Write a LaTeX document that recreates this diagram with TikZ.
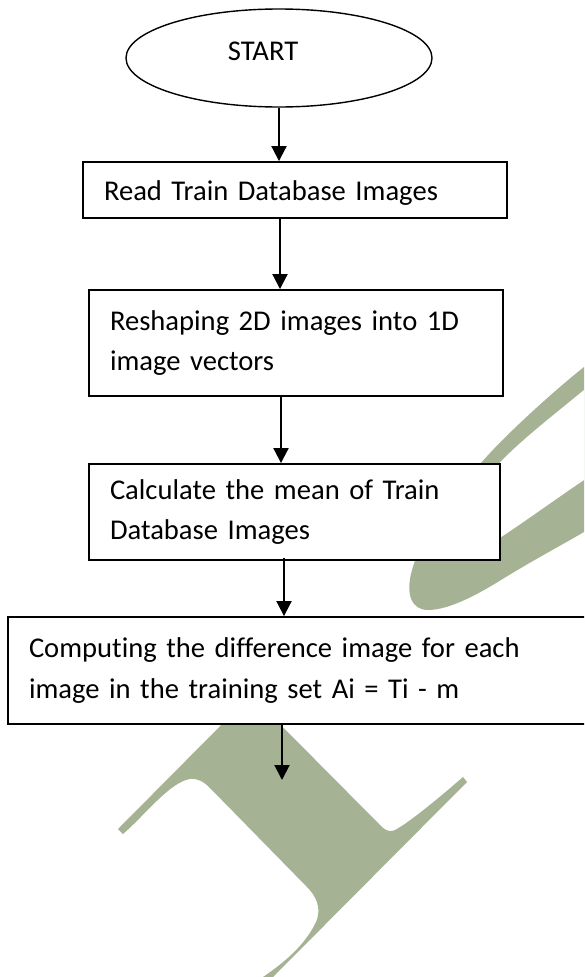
\documentclass[tikz,border=0pt]{standalone}
\usepackage{fontspec}
\setmainfont{Carlito}[Ligatures=NoCommon]
\usetikzlibrary{shapes.geometric,arrows.meta}
\definecolor{wmgreen}{RGB}{166,178,148}
\begin{document}
\begin{tikzpicture}[x=1pt,y=-1pt,
  txt/.style={font=\fontsize{28.6}{40.5}\selectfont},
  boxnode/.style={draw, line width=1.9pt, fill=white, rectangle, inner xsep=21pt, inner ysep=0pt, align=left, txt},
  arr/.style={line width=2pt, -{Triangle[length=15pt,width=15pt]}}]
\useasboundingbox (0,0) rectangle (584,977);
\clip (0,0) rectangle (584,977);
% watermark swoosh
\fill[wmgreen] (600,352) -- (584,367) .. controls (555,390) and (505,435) .. (481,463)
  .. controls (450,500) and (420,540) .. (412,570) .. controls (405,595) and (412,610) .. (428,610)
  .. controls (450,610) and (480,593) .. (501,580) .. controls (530,562) and (560,546) .. (584,532)
  -- (600,523) -- cycle;
\fill[white] (600,378) -- (584,390) .. controls (550,418) and (515,445) .. (495,468)
  .. controls (478,490) and (478,525) .. (495,541) .. controls (520,525) and (560,496) .. (584,480)
  -- (600,470) -- cycle;
% watermark H
\fill[wmgreen] (251,695) -- (118,829) -- (123,834) .. controls (145,815) and (170,782) .. (190,779)
  .. controls (198,778) and (204,782) .. (210,788) -- (307,887)
  .. controls (316,896) and (322,908) .. (316,922) .. controls (305,945) and (285,962) .. (263,977)
  -- (250,990) -- (260,990) -- (273,977) -- (467,782) -- (463,777)
  .. controls (440,797) and (410,822) .. (395,830) .. controls (388,833) and (384,829) .. (380,825)
  -- cycle;
% flowchart
\node[ellipse, draw, line width=1.4pt, minimum width=306pt, minimum height=98pt, inner sep=0pt, txt] (start) at (279,58) {\kern-32pt\raisebox{13pt}{START}};
\node[boxnode, text width=382pt, minimum height=56pt, text height=22pt, text depth=2pt] (b1) at (295,190) {Read Train Database Images};
\node[boxnode, text width=372pt, minimum height=106pt] (b2) at (296,343) {Reshaping 2D images into 1D\\image vectors};
\node[boxnode, text width=369pt, minimum height=96pt] (b3) at (294.5,512) {Calculate the mean of Train\\Database Images};
\node[boxnode, text width=550pt, minimum height=107pt] (b4) at (304,670.5) {Computing the difference image for each\\image in the training set Ai = Ti - m};
\coordinate (fin) at (282,780);
\draw[arr] (start.south) -- (start.south |- b1.north);
\draw[arr] ([xshift=-15pt]b1.south) -- ([xshift=-16pt]b2.north);
\draw[arr] ([xshift=-15pt]b2.south) -- ([xshift=-13.5pt]b3.north);
\draw[arr] ([xshift=-10.5pt,yshift=3pt]b3.south) -- ([xshift=-20pt]b4.north);
\draw[arr] ([xshift=-22pt]b4.south) -- (fin);
\end{tikzpicture}
\end{document}
